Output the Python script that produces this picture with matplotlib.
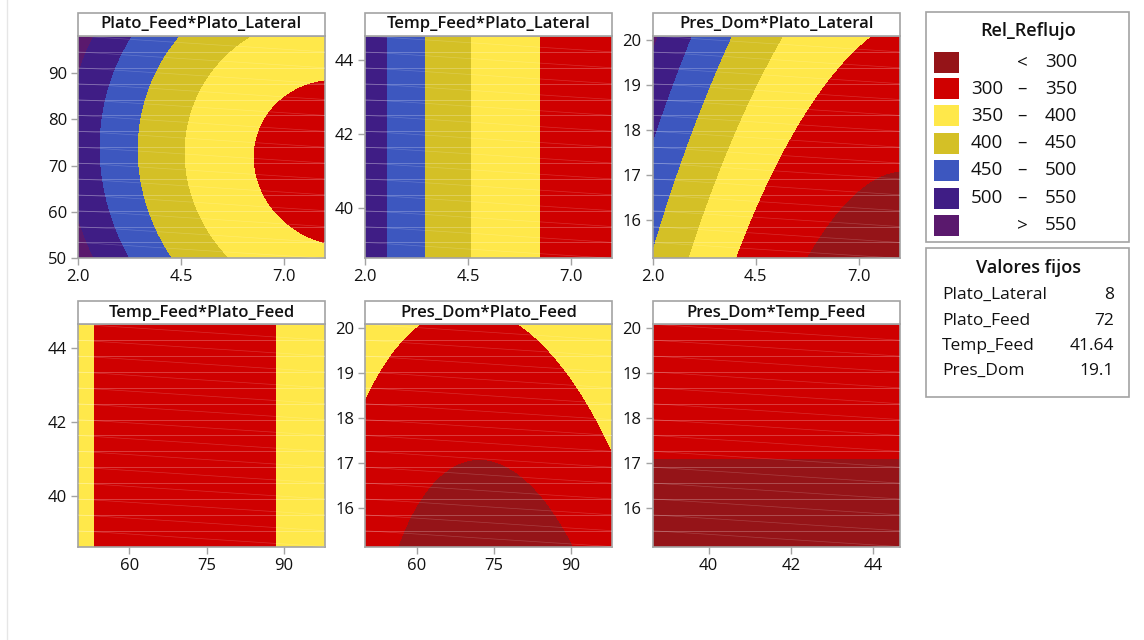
import numpy as np
import matplotlib
matplotlib.use("Agg")
import matplotlib.pyplot as plt
from matplotlib.patches import Rectangle
from matplotlib.collections import LineCollection

plt.rcParams["font.family"] = ["Open Sans", "DejaVu Sans"]

# Factors of the fitted response surface
factors = ["Plato_Lateral", "Plato_Feed", "Temp_Feed", "Pres_Dom"]
factor_low = [2.0, 50.0, 38.64, 15.15]
factor_high = [8.0, 98.0, 44.64, 20.08]
hold_values = [8, 72, 41.64, 19.1]
hold_labels = ["8", "72", "41.64", "19.1"]

# Quadratic model of Rel_Reflujo, terms centred at model_center
model_center = [8.0, 72.0, 41.64, 17.6]
b_intercept = 306.5
b_linear = [-1.6, 0.028, 0.0, 13.0]
b_square = [5.0, 0.071, 0.0, 0.8]
cross_pairs = [(0, 1), (0, 2), (0, 3), (1, 2), (1, 3), (2, 3)]
b_cross = [0.081, 0.0, -1.6, 0.0, 0.093, 0.0]

# Contour bands
band_edges = [300, 350, 400, 450, 500, 550]
band_colors = ["#951418", "#cf0000", "#ffe84a", "#d4c026",
               "#3d57bf", "#3f1d85", "#5a196d"]
band_low_text = ["", "300", "350", "400", "450", "500", ""]
band_mid_text = ["<", "\u2013", "\u2013", "\u2013", "\u2013", "\u2013", ">"]
band_high_text = ["300", "350", "400", "450", "500", "550", "550"]

# Panels: (x factor, y factor)
panel_pairs = [(0, 1), (0, 2), (0, 3), (1, 2), (1, 3), (2, 3)]
tick_values = {0: [2.0, 4.5, 7.0], 1: [60, 75, 90], 2: [40, 42, 44],
               3: [16, 17, 18, 19, 20]}
y_tick_values = {1: [50, 60, 70, 80, 90], 2: [40, 42, 44], 3: [16, 17, 18, 19, 20]}
tick_format = {0: "{:.1f}", 1: "{:d}", 2: "{:d}", 3: "{:d}"}


def response(settings):
    d = [settings[i] - model_center[i] for i in range(4)]
    r = b_intercept
    for i in range(4):
        r = r + b_linear[i] * d[i] + b_square[i] * d[i] ** 2
    for coef, (i, j) in zip(b_cross, cross_pairs):
        r = r + coef * d[i] * d[j]
    return r


W, H = 1144, 640
fig = plt.figure(figsize=(W / 100, H / 100), dpi=100)
fig.patch.set_facecolor("white")

col_left = [78, 365.3, 652.7]
col_width = 247
row_top = [36, 324.3]
plot_height = 222.3
title_height = 23.5
frame_color = "#a3a3a3"
text_color = "#111111"

levels = [-1e6] + band_edges + [1e6]

for k, (ix, iy) in enumerate(panel_pairs):
    r, c = divmod(k, 3)
    x0 = col_left[c]
    y0 = row_top[r]
    ax = fig.add_axes([x0 / W, 1 - (y0 + plot_height) / H,
                       col_width / W, plot_height / H])
    xs = np.linspace(factor_low[ix], factor_high[ix], 241)
    ys = np.linspace(factor_low[iy], factor_high[iy], 241)
    X, Y = np.meshgrid(xs, ys)
    settings = [np.full_like(X, float(v)) for v in hold_values]
    settings[ix] = X
    settings[iy] = Y
    Z = response(settings)
    ax.contourf(X, Y, Z, levels=levels, colors=band_colors,
                antialiased=False)

    # faint facet lines of the rendered surface
    n_rows = 14
    yl = np.linspace(factor_low[iy], factor_high[iy], n_rows + 1)
    segs = [[(factor_low[ix], v), (factor_high[ix], v)] for v in yl[1:-1]]
    ax.add_collection(LineCollection(segs, colors="white", linewidths=0.6,
                                     alpha=0.28, zorder=3))
    diag = [[(factor_low[ix], yl[j + 1]), (factor_high[ix], yl[j])]
            for j in range(n_rows)]
    ax.add_collection(LineCollection(diag, colors="white", linewidths=0.5,
                                     alpha=0.18, zorder=3))

    ax.set_xlim(factor_low[ix], factor_high[ix])
    ax.set_ylim(factor_low[iy], factor_high[iy])
    ax.set_xticks(tick_values[ix])
    ax.set_xticklabels([tick_format[ix].format(v) for v in tick_values[ix]])
    ax.set_yticks(y_tick_values[iy])
    ax.set_yticklabels([tick_format[iy].format(v) for v in y_tick_values[iy]])
    ax.tick_params(direction="out", length=5, width=1, color=frame_color,
                   labelsize=12, pad=3, labelcolor=text_color)
    for sp in ax.spines.values():
        sp.set_color(frame_color)
        sp.set_linewidth(1.2)

    th = title_height / plot_height
    ax.add_patch(Rectangle((0, 1), 1, th, transform=ax.transAxes,
                           facecolor="white", edgecolor=frame_color,
                           linewidth=1.2, clip_on=False, zorder=5))
    ax.text(0.5, 1 + th / 2, f"{factors[iy]}*{factors[ix]}",
            transform=ax.transAxes, ha="center", va="center",
            fontsize=12, fontweight="semibold", color=text_color, zorder=6)

# Overlay in pixel coordinates for the legend boxes
ov = fig.add_axes([0, 0, 1, 1], zorder=10)
ov.set_xlim(0, W)
ov.set_ylim(H, 0)
ov.axis("off")
ov.patch.set_alpha(0)

ov.plot([7, 7], [0, H], color="#e6e6e6", lw=1)

ov.add_patch(Rectangle((926, 12), 203, 230, facecolor="white",
                       edgecolor=frame_color, lw=1.2))
ov.text(1028, 31, "Rel_Reflujo", ha="center", va="center", fontsize=13,
        fontweight="semibold", color=text_color)
entry_y = [62, 88.5, 115.8, 143, 170, 198, 225]
for yy, col, lo, mid, hi in zip(entry_y, band_colors, band_low_text,
                                band_mid_text, band_high_text):
    ov.add_patch(Rectangle((934, yy - 10.5), 25, 21, facecolor=col,
                           edgecolor="none"))
    if lo:
        ov.text(1003, yy, lo, ha="right", va="center", fontsize=13.5,
                color=text_color)
    ov.text(1022, yy, mid, ha="center", va="center", fontsize=13.5,
            color=text_color)
    ov.text(1077, yy, hi, ha="right", va="center", fontsize=13.5,
            color=text_color)

ov.add_patch(Rectangle((926, 248), 203, 149, facecolor="white",
                       edgecolor=frame_color, lw=1.2))
ov.text(1029, 268, "Valores fijos", ha="center", va="center", fontsize=13,
        fontweight="semibold", color=text_color)
fixed_y = [295, 321, 346, 371]
for yy, name, val in zip(fixed_y, factors, hold_labels):
    ov.text(942, yy, name, ha="left", va="center", fontsize=12.5,
            color=text_color)
    ov.text(1114, yy, val, ha="right", va="center", fontsize=12.5,
            color=text_color)

fig.savefig("out.png", dpi=100)
